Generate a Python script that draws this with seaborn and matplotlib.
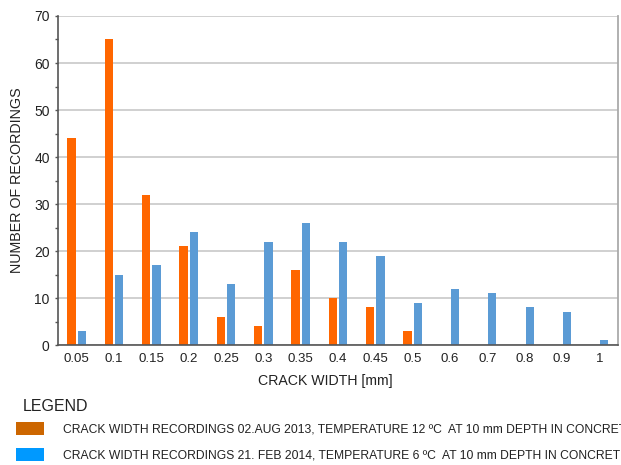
import matplotlib
matplotlib.use("Agg")
import matplotlib.pyplot as plt
from matplotlib.patches import Patch
from matplotlib.ticker import MultipleLocator
import pandas as pd
import seaborn as sns

# Crack width classes [mm]
widths = ["0.05", "0.1", "0.15", "0.2", "0.25", "0.3", "0.35", "0.4",
          "0.45", "0.5", "0.6", "0.7", "0.8", "0.9", "1"]

# Number of recordings per class
aug_2013 = [44, 65, 32, 21, 6, 4, 16, 10, 8, 3, 0, 0, 0, 0, 0]
feb_2014 = [3, 15, 17, 24, 13, 22, 26, 22, 19, 9, 12, 11, 8, 7, 1]

series_names = [
    "CRACK WIDTH RECORDINGS 02.AUG 2013, TEMPERATURE 12 \u00baC  AT 10 mm DEPTH IN CONCRETE",
    "CRACK WIDTH RECORDINGS 21. FEB 2014, TEMPERATURE 6 \u00baC  AT 10 mm DEPTH IN CONCRETE",
]

df = pd.DataFrame({
    "width": widths * 2,
    "count": aug_2013 + feb_2014,
    "series": [series_names[0]] * len(widths) + [series_names[1]] * len(widths),
})

sns.set_theme(style="white")
plt.rcParams["font.family"] = ["Liberation Sans", "DejaVu Sans"]

bar_colors = ["#FF6600", "#5B9BD5"]
legend_colors = ["#CC6600", "#0099FF"]
text_color = "#222222"

fig = plt.figure(figsize=(6.21, 4.65), dpi=100)
ax = fig.add_axes([0.0934, 0.258, 0.9016, 0.7076])

sns.barplot(data=df, x="width", y="count", hue="series", order=widths,
            hue_order=series_names, palette=bar_colors, width=0.55, gap=0.2,
            linewidth=0, saturation=1, legend=False, ax=ax)

ax.set_ylim(0, 70)
ax.set_xlim(-0.5, len(widths) - 0.5)
ax.yaxis.set_major_locator(MultipleLocator(10))
ax.yaxis.set_minor_locator(MultipleLocator(5))
ax.grid(axis="y", which="major", color="#CDCDCD", linewidth=1.3)
ax.set_axisbelow(True)

for side in ["left", "bottom"]:
    ax.spines[side].set_color("#555555")
    ax.spines[side].set_linewidth(1.2)
ax.spines["right"].set_color("#AAAAAA")
ax.spines["right"].set_linewidth(1.3)
ax.spines["top"].set_visible(False)

ax.tick_params(axis="y", which="both", left=True, length=2.5, width=1,
               color="#555555", labelsize=10, pad=3.5, labelcolor=text_color)
ax.tick_params(axis="x", bottom=False, length=0, labelsize=9.5, pad=6,
               labelcolor=text_color)

ax.set_xlabel("CRACK WIDTH [mm]", fontsize=10.2, color=text_color,
              labelpad=6, x=0.477)
ax.set_ylabel("NUMBER OF RECORDINGS", fontsize=10.3, color=text_color,
              labelpad=7)

# Legend block below the chart; the long labels run past the right edge
fig.text(23 / 621, 1 - 411 / 465, "LEGEND", fontsize=11.5, color=text_color,
         ha="left", va="baseline")
handles = [Patch(facecolor=c, edgecolor="none") for c in legend_colors]
leg = fig.legend(handles=handles, labels=series_names, loc="upper left",
                 bbox_to_anchor=(16 / 621, 1 - 422 / 465), frameon=False,
                 fontsize=8.7, handlelength=2.3, handleheight=1.3,
                 handletextpad=1.57, labelspacing=1.05, borderpad=0,
                 borderaxespad=0)
for t in leg.get_texts():
    t.set_color(text_color)

fig.savefig("out.png", dpi=100)
